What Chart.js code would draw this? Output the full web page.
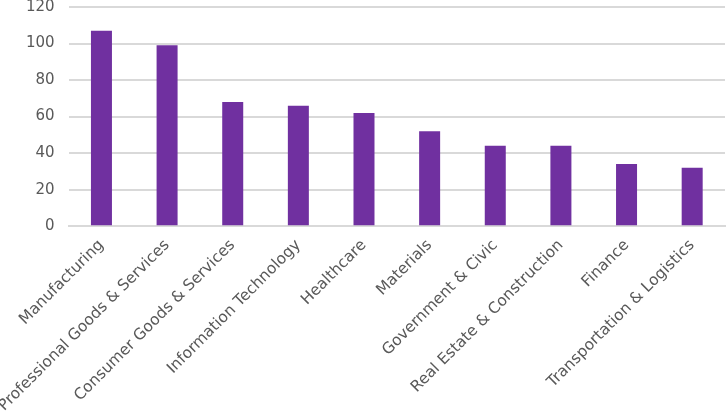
<!DOCTYPE html>
<html>
<head>
<meta charset="utf-8">
<script src="https://cdn.jsdelivr.net/npm/chart.js@4"></script>
<style>
  html, body { margin: 0; padding: 0; background: #fff; overflow: hidden; }
  #wrap { width: 726px; height: 433px; position: relative; top: -16px; }
</style>
</head>
<body>
<div id="wrap"><canvas id="chart"></canvas></div>
<script>
// Data
const industries = [
    "Manufacturing",
    "Professional Goods & Services",
    "Consumer Goods & Services",
    "Information Technology",
    "Healthcare",
    "Materials",
    "Government & Civic",
    "Real Estate & Construction",
    "Finance",
    "Transportation & Logistics"
];
const counts = [107, 99, 68, 66, 62, 52, 44, 44, 34, 32];
const yTicks = [0, 20, 40, 60, 80, 100, 120];

const textColor = "#595959";
const gridColor = "#d9d9d9";

const ctx = document.getElementById("chart").getContext("2d");
new Chart(ctx, {
    type: "bar",
    data: {
        labels: industries,
        datasets: [{
            data: counts,
            backgroundColor: "#7030a0",
            borderWidth: 0,
            categoryPercentage: 1,
            barPercentage: 0.32
        }]
    },
    options: {
        responsive: true,
        maintainAspectRatio: false,
        animation: false,
        layout: { padding: { top: 0, right: 1, bottom: 0, left: 12 } },
        plugins: { legend: { display: false }, tooltip: { enabled: false } },
        scales: {
            x: {
                grid: { display: false },
                border: { display: true, color: gridColor, width: 2 },
                ticks: {
                    color: textColor,
                    font: { family: "DejaVu Sans", size: 15.5 },
                    minRotation: 45,
                    maxRotation: 45,
                    autoSkip: false,
                    padding: 2
                }
            },
            y: {
                min: yTicks[0],
                max: yTicks[yTicks.length - 1],
                afterBuildTicks: axis => { axis.ticks = yTicks.map(v => ({ value: v })); },
                grid: { color: gridColor, lineWidth: 2, drawTicks: false },
                border: { display: false },
                ticks: {
                    color: textColor,
                    font: { family: "DejaVu Sans", size: 15 },
                    padding: 14
                }
            }
        }
    }
});
</script>
</body>
</html>
